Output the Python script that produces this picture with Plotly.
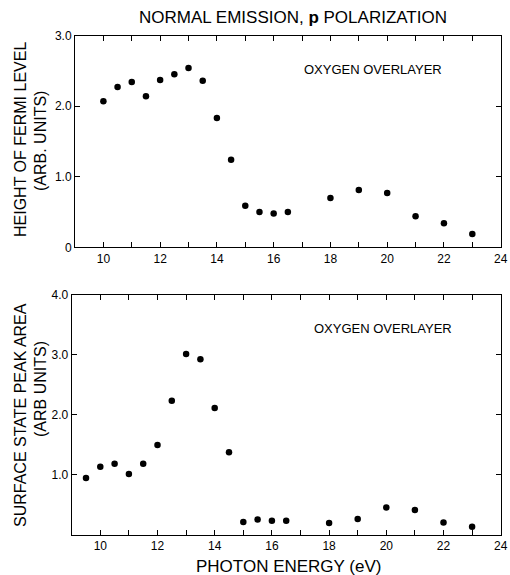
import plotly.graph_objects as go

# Top panel: height of Fermi level (arb. units)
energy_top = [10, 10.5, 11, 11.5, 12, 12.5, 13, 13.5, 14, 14.5, 15, 15.5, 16, 16.5, 18, 19, 20, 21, 22, 23]
fermi_height = [2.07, 2.27, 2.34, 2.14, 2.37, 2.45, 2.54, 2.36, 1.83, 1.24, 0.59, 0.50, 0.48, 0.50, 0.70, 0.81, 0.77, 0.44, 0.34, 0.19]

# Bottom panel: surface state peak area (arb. units)
energy_bot = [9.5, 10, 10.5, 11, 11.5, 12, 12.5, 13, 13.5, 14, 14.5, 15, 15.5, 16, 16.5, 18, 19, 20, 21, 22, 23]
peak_area = [0.94, 1.13, 1.18, 1.01, 1.18, 1.49, 2.23, 3.01, 2.92, 2.11, 1.37, 0.21, 0.25, 0.23, 0.23, 0.19, 0.26, 0.45, 0.41, 0.20, 0.13]

x_tickvals = list(range(10, 25))
x_ticktext = [str(v) if v % 2 == 0 else "" for v in x_tickvals]
top_y_vals = [0, 1, 2, 3]
top_y_text = ["0", "1.0", "2.0", "3.0"]
bot_y_vals = [1, 2, 3, 4]
bot_y_text = ["1.0", "2.0", "3.0", "4.0"]

W, H = 510, 575
FONT = "Liberation Sans, Arial, sans-serif"

fig = go.Figure()
fig.add_trace(go.Scatter(x=energy_top, y=fermi_height, mode="markers",
                         marker=dict(color="black", size=6.5), xaxis="x", yaxis="y", showlegend=False))
fig.add_trace(go.Scatter(x=energy_bot, y=peak_area, mode="markers",
                         marker=dict(color="black", size=6.5), xaxis="x2", yaxis="y2", showlegend=False))

axis_common = dict(showline=True, linecolor="black", linewidth=1, mirror="allticks",
                   ticks="inside", ticklen=5, tickwidth=1, tickcolor="black",
                   showgrid=False, zeroline=False, automargin=False,
                   tickfont=dict(family=FONT, size=12, color="black"))

def px_x(p):
    return p / W

def px_y(p):
    return 1 - p / H

fig.update_layout(
    template="none",
    width=W, height=H,
    margin=dict(l=0, r=0, t=0, b=0, pad=0),
    paper_bgcolor="white", plot_bgcolor="white",
    font=dict(family=FONT, color="black"),
    xaxis=dict(domain=[px_x(75), px_x(500.7)], range=[9, 24], anchor="y",
               tickmode="array", tickvals=x_tickvals, ticktext=x_ticktext, **axis_common),
    yaxis=dict(domain=[px_y(247.3), px_y(35.5)], range=[0, 3], anchor="x",
               tickmode="array", tickvals=top_y_vals, ticktext=top_y_text, **axis_common),
    xaxis2=dict(domain=[px_x(71.7), px_x(500.7)], range=[9, 24], anchor="y2",
                tickmode="array", tickvals=x_tickvals, ticktext=x_ticktext, **axis_common),
    yaxis2=dict(domain=[px_y(534.5), px_y(294.5)], range=[0, 4], anchor="x2",
                tickmode="array", tickvals=bot_y_vals, ticktext=bot_y_text, **axis_common),
)

def ann(text, x, y, size, angle=0):
    fig.add_annotation(text=text, x=x, y=y, xref="paper", yref="paper", showarrow=False,
                       textangle=angle, xanchor="center", yanchor="middle",
                       font=dict(family=FONT, size=size, color="black"))

ann("NORMAL EMISSION, <b>p</b> POLARIZATION", px_x(293), px_y(18), 17)
ann("PHOTON ENERGY (eV)", px_x(288), px_y(566), 17)
ann("OXYGEN OVERLAYER", px_x(373), px_y(69), 13)
ann("OXYGEN OVERLAYER", px_x(383), px_y(328), 13)
ann("HEIGHT OF FERMI LEVEL", px_x(20), px_y(140), 16, angle=-90)
ann("(ARB. UNITS)", px_x(40), px_y(141), 16, angle=-90)
ann("SURFACE STATE PEAK AREA", px_x(20), px_y(415), 16, angle=-90)
ann("(ARB UNITS)", px_x(40), px_y(389), 16, angle=-90)

fig.write_html("out.html", config={"displayModeBar": False},
               post_script="document.body.style.margin='0px';document.body.style.overflow='hidden';")
